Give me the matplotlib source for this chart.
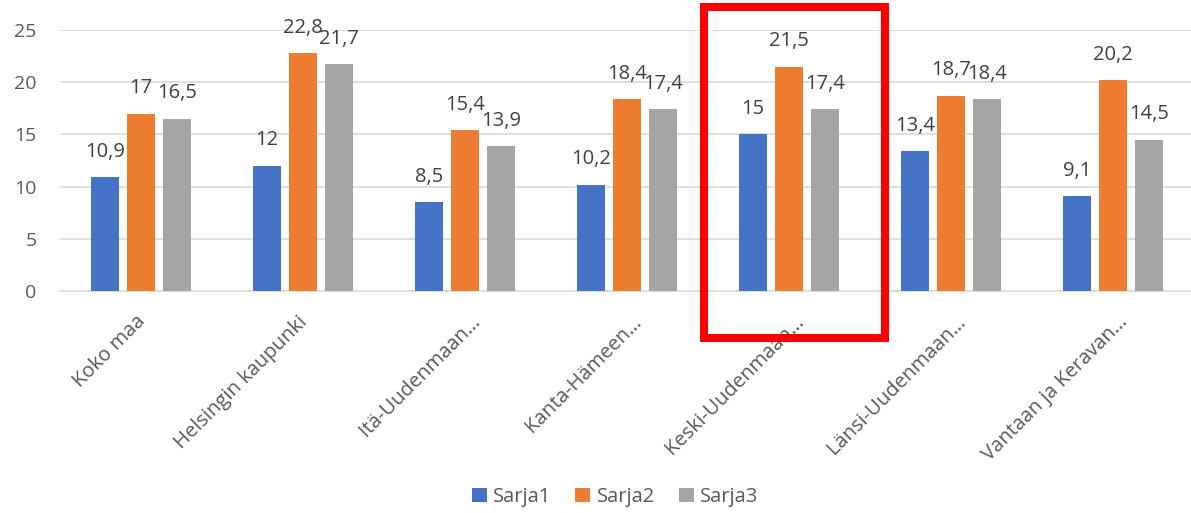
import matplotlib
matplotlib.use("Agg")
import matplotlib.pyplot as plt
import matplotlib.transforms as mtransforms
import numpy as np
from matplotlib.patches import Rectangle

categories = ["Koko maa", "Helsingin kaupunki", "Itä-Uudenmaan…", "Kanta-Hämeen…",
              "Keski-Uudenmaan…", "Länsi-Uudenmaan…", "Vantaan ja Keravan…"]
sarja1 = [10.9, 12, 8.5, 10.2, 15, 13.4, 9.1]
sarja2 = [17, 22.8, 15.4, 18.4, 21.5, 18.7, 20.2]
sarja3 = [16.5, 21.7, 13.9, 17.4, 17.4, 18.4, 14.5]
series_names = ["Sarja1", "Sarja2", "Sarja3"]
colors = ["#4472C4", "#ED7D31", "#A5A5A5"]
yticks = [0, 5, 10, 15, 20, 25]

plt.rcParams['font.family'] = ['Open Sans', 'DejaVu Sans']

W, H = 1191, 513
fig = plt.figure(figsize=(W / 100, H / 100), dpi=100)
ax = fig.add_axes([60 / W, 1 - 291 / H, (1194 - 60) / W, (291 - 30) / H])

x = np.arange(len(categories))
bw = 28 / 162
step = 36 / 162
for i, (vals, name, c) in enumerate(zip([sarja1, sarja2, sarja3], series_names, colors)):
    pos = x + (i - 1) * step
    bars = ax.bar(pos, vals, width=bw, color=c, label=name, zorder=3)
    for b, v in zip(bars, vals):
        ax.annotate(f"{v:g}".replace(".", ","), (b.get_x() + b.get_width() / 2, v),
                    xytext=(0, 11), textcoords="offset points", ha="center", va="bottom",
                    fontsize=14.5, color="#404040")

ax.set_xlim(-0.5, len(categories) - 0.5)
ax.set_ylim(0, 25)
ax.set_yticks(yticks)
ax.set_yticklabels([str(t) for t in yticks], fontsize=14, color="#595959")
ax.yaxis.grid(True, color="#D9D9D9", linewidth=1.2, zorder=0)
ax.set_axisbelow(True)
for s in ["top", "right", "left"]:
    ax.spines[s].set_visible(False)
ax.spines["bottom"].set_color("#D9D9D9")
ax.spines["bottom"].set_linewidth(1.2)
ax.tick_params(axis="both", length=0)
ax.tick_params(axis="y", pad=17)
ax.set_xticks(x)
ax.set_xticklabels(categories, rotation=45, ha="right", rotation_mode="anchor",
                   fontsize=14.5, color="#595959")
ax.tick_params(axis="x", pad=15)
for lab in ax.get_xticklabels():
    dx = 5 if lab.get_text().endswith("…") else -6
    off = mtransforms.ScaledTranslation(dx / 100, 0, fig.dpi_scale_trans)
    lab.set_transform(lab.get_transform() + off)

leg = fig.legend(loc="center", bbox_to_anchor=(615 / W, 1 - 497 / H), ncol=3, frameon=False,
                 fontsize=14.5, handlelength=0.75, handleheight=0.75, handletextpad=0.3,
                 columnspacing=1.2)
for t in leg.get_texts():
    t.set_color("#595959")

rect = Rectangle((704 / W, 1 - 338 / H), (885 - 704) / W, (338 - 7) / H,
                 transform=fig.transFigure, fill=False, edgecolor="#FF0000",
                 linewidth=5.8, zorder=10)
fig.patches.append(rect)

fig.savefig("out.png", dpi=100)
